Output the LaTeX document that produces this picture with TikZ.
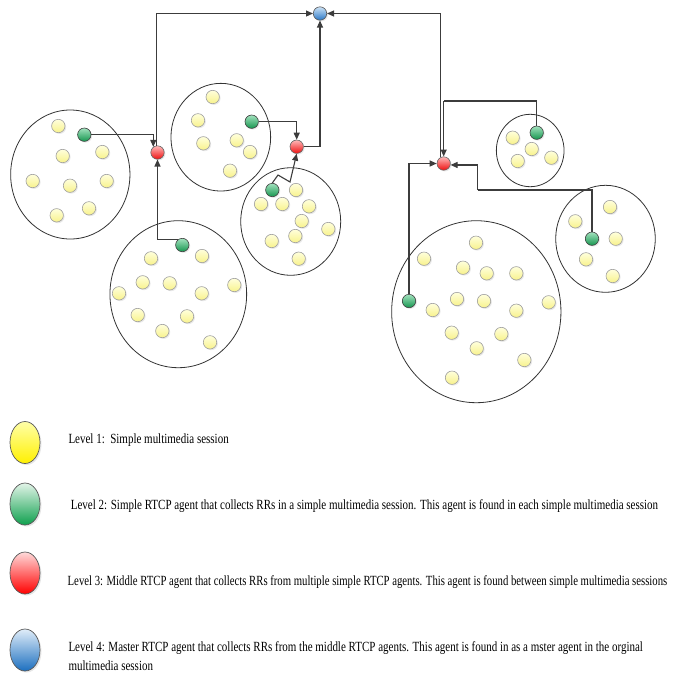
\documentclass[tikz,border=0pt]{standalone}
\usepackage{fontspec}
\setmainfont[FakeStretch=0.785]{Liberation Serif}
\usetikzlibrary{shapes.geometric,arrows.meta,shadows}

\definecolor{linegray}{HTML}{3C3C3C}
\definecolor{ringgray}{HTML}{333333}
\definecolor{ytop}{HTML}{FFFFDC}
\definecolor{ybot}{HTML}{F8F28C}
\definecolor{gtop}{HTML}{A2E2BE}
\definecolor{gbot}{HTML}{16964F}
\definecolor{rtop}{HTML}{FFB8B8}
\definecolor{rbot}{HTML}{EE1111}
\definecolor{btop}{HTML}{CCE2F6}
\definecolor{bbot}{HTML}{2A78C6}
\definecolor{lytop}{HTML}{FFFFA8}
\definecolor{lymid}{HTML}{FFFA50}
\definecolor{lybot}{HTML}{FFF000}
\definecolor{lgtop}{HTML}{E2F4E8}
\definecolor{lgmid}{HTML}{7CCF9C}
\definecolor{lgbot}{HTML}{0FA04E}
\definecolor{lrtop}{HTML}{FFDADA}
\definecolor{lrmid}{HTML}{FF7A7A}
\definecolor{lrbot}{HTML}{FF0000}
\definecolor{lbtop}{HTML}{E0EDF9}
\definecolor{lbmid}{HTML}{8DBBE6}
\definecolor{lbbot}{HTML}{1C6FBF}

\begin{document}
\begin{tikzpicture}[x=1pt,y=-1pt,
  session/.style={ellipse,draw=ringgray,line width=0.8pt,inner sep=0pt},
  dotbase/.style={circle,inner sep=0pt,minimum size=13.4pt,line width=0.6pt,
    drop shadow={shadow xshift=1.2pt,shadow yshift=-1.2pt,opacity=0.18}},
  ydot/.style={dotbase,draw=gray!75,top color=ytop,bottom color=ybot},
  gdot/.style={dotbase,draw=black!75,top color=gtop,bottom color=gbot},
  rdot/.style={dotbase,draw=black!60,top color=rtop,bottom color=rbot},
  bdot/.style={dotbase,draw=black!65,top color=btop,bottom color=bbot},
  conn/.style={draw=linegray,line width=1.1pt,-{Triangle[length=7pt,width=6pt]}},
  wire/.style={draw=linegray,line width=1.1pt},
  legendmark/.style={ellipse,inner sep=0pt,minimum width=30pt,minimum height=42pt,
    draw=black!65,line width=0.7pt,
    drop shadow={shadow xshift=1.5pt,shadow yshift=-1.5pt,opacity=0.2}},
  legendtext/.style={anchor=base west,inner sep=0pt,
    font=\fontsize{14}{18.3}\selectfont,align=left}
]
\useasboundingbox (0,0) rectangle (680,673);

% multimedia sessions
\node[session,minimum width=119.3pt,minimum height=129pt] (s1) at (70.3,174.5) {};
\node[session,minimum width=136.7pt,minimum height=147pt] (s2) at (178.3,294.2) {};
\node[session,minimum width=99.7pt,minimum height=107.7pt] (s3) at (220.8,137.2) {};
\node[session,minimum width=100pt,minimum height=107.6pt] (s4) at (290.7,221.5) {};
\node[session,minimum width=169.3pt,minimum height=182pt] (s5) at (476.3,311.7) {};
\node[session,minimum width=67.7pt,minimum height=72.4pt] (s6) at (530.2,150.5) {};
\node[session,minimum width=99.6pt,minimum height=107pt] (s7) at (605.5,238.8) {};

% session members
\foreach \x/\y [count=\i] in {58.3/126,102.3/152,62.7/156,32.7/181,70/185.7,106.7/181,56.7/215.3,89/208.3}
  \node[ydot] (ma\i) at (\x,\y) {};
\foreach \x/\y [count=\i] in {151/258.3,202/256,142.7/282.3,169.7/283.3,201.7/293.3,234.3/285,119/293.3,137.7/315,187/316.3,162.3/331,210/342.3}
  \node[ydot] (mb\i) at (\x,\y) {};
\foreach \x/\y [count=\i] in {212.7/97,198/120.3,203.3/143.3,236.7/140.3,250/152,230/170.7}
  \node[ydot] (mc\i) at (\x,\y) {};
\foreach \x/\y [count=\i] in {296/190,261/204,282.3/204,309/206.3,301.7/221,328.3/229,295.3/236,271.7/241,298.7/258.7}
  \node[ydot] (md\i) at (\x,\y) {};
\foreach \x/\y [count=\i] in {476/242.7,424/258.7,463/267.7,486.7/273.3,516.3/273.3,457/299,484/301,432.7/310,516.3/310.7,548.7/302.3,451.7/332.7,501.3/334,476.7/348.3,524.3/360,452/377.7}
  \node[ydot] (me\i) at (\x,\y) {};
\foreach \x/\y [count=\i] in {512.7/137.7,531.7/149,517.7/161,551.3/157.7}
  \node[ydot] (mf\i) at (\x,\y) {};
\foreach \x/\y [count=\i] in {610/207,575.3/221.3,615.7/238.7,586/259.3,612.7/276}
  \node[ydot] (mg\i) at (\x,\y) {};

% simple RTCP agents
\node[gdot] (g1) at (84.3,134.7) {};
\node[gdot] (g2) at (182.3,245) {};
\node[gdot] (g3) at (251.7,121.7) {};
\node[gdot] (g4) at (272.3,190) {};
\node[gdot] (g5) at (536.7,132.7) {};
\node[gdot] (g6) at (592,238.7) {};
\node[gdot] (g7) at (409,301) {};

% middle RTCP agents
\node[rdot] (r1) at (157.5,152.5) {};
\node[rdot] (r2) at (296.7,146.7) {};
\node[rdot] (r3) at (443.7,163.5) {};

% master RTCP agent
\node[bdot] (b) at (320,13.5) {};

% bend points
\coordinate (k4a) at (278,175);
\coordinate (k4b) at (290,182);
\coordinate (k5) at (443.7,101);
\coordinate (k6) at (477.7,190);

% reports flowing up the hierarchy
\draw[conn] (g1) -| (r1.127);
\draw[conn] (g2.125) -| (r1.south);
\draw[conn] (r1.100) |- (b.west);
\draw[conn] (g3) -| (r2.north);
\draw[conn] (r2) -| (b.south);
\draw[conn] (g4.north) -- (k4a) -- (k4b) -- (r2.south);
\draw[conn] (r3.115) |- (b.east);
\draw[wire] (g5.north) |- (k5);
\draw[conn] (k5) -- (r3.north);
\draw[wire] (g6.north) |- (k6);
\draw[conn] (k6) |- (r3.-12);
\draw[conn] (g7.north) |- (r3.west);

% legend
\node[legendmark,top color=lytop,middle color=lymid,bottom color=lybot] (l1) at (25,442.5) {};
\node[legendmark,top color=lgtop,middle color=lgmid,bottom color=lgbot] (l2) at (25,504) {};
\node[legendmark,top color=lrtop,middle color=lrmid,bottom color=lrbot] (l3) at (25,573) {};
\node[legendmark,top color=lbtop,middle color=lbmid,bottom color=lbbot] (l4) at (25,650) {};

\node[legendtext] (t1) at (68.3,443.3) {Level 1:\ \ Simple multimedia session};
\node[legendtext] (t2) at (70.7,509.3) {Level 2: Simple RTCP agent that collects RRs in a simple multimedia session. This agent is found in each simple multimedia session};
\node[legendtext] (t3) at (67.5,585) {\scalebox{0.975}[1]{Level 3: Middle RTCP agent that collects RRs from multiple simple RTCP agents. This agent is found between simple multimedia sessions}};
\node[legendtext] (t4) at (68.3,670) {Level 4: Master RTCP agent that collects RRs from the middle RTCP agents. This agent is found in as a mster agent in the orginal\\multimedia session};
\end{tikzpicture}
\end{document}
